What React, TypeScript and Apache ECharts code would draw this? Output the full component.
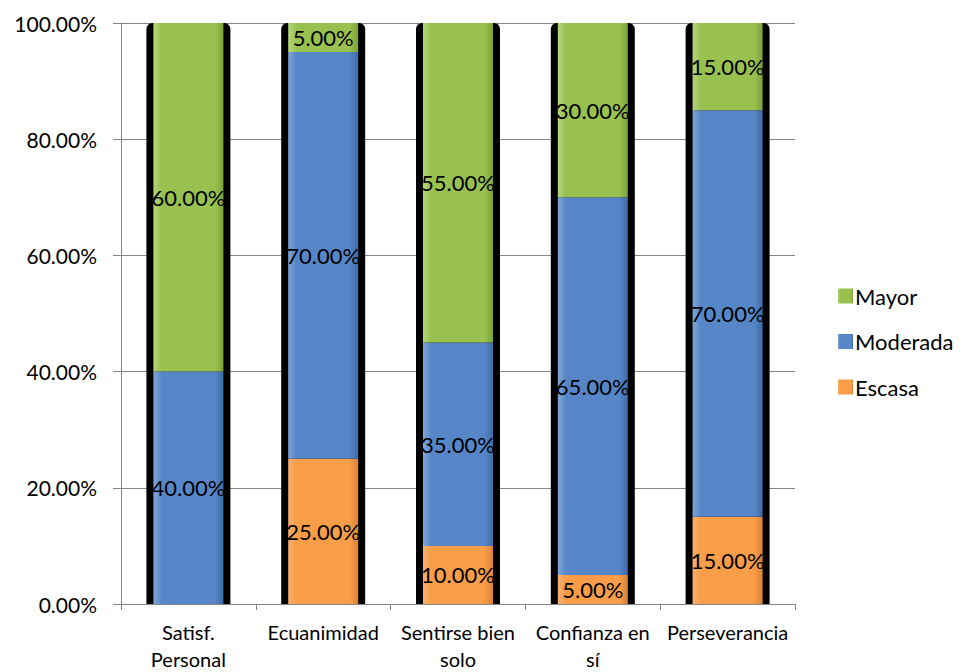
import React, { useEffect, useRef } from "react";
import * as echarts from "echarts";

const categories = ["Satisf.\nPersonal", "Ecuanimidad", "Sentirse bien\nsolo", "Confianza en\nsí", "Perseverancia"];
const escasa = [0, 25, 10, 5, 15];
const moderada = [40, 70, 35, 65, 70];
const mayor = [60, 5, 55, 30, 15];
const totals = [100, 100, 100, 100, 100];
const yTicks = [0, 20, 40, 60, 80, 100];

const FONT = "Lato, 'Open Sans', sans-serif";

function grad(light: string, mid: string, dark: string) {
  return new echarts.graphic.LinearGradient(0, 0, 1, 0, [
    { offset: 0, color: light },
    { offset: 0.12, color: mid },
    { offset: 0.88, color: mid },
    { offset: 1, color: dark },
  ]);
}

export default function App() {
  const ref = useRef<HTMLDivElement>(null);
  useEffect(() => {
    const chart = echarts.init(ref.current!, undefined, { renderer: "svg" });
    const label = {
      show: true,
      position: "inside" as const,
      color: "#000",
      fontFamily: FONT,
      fontSize: 22,
      formatter: (p: any) => (p.value > 0 ? p.value.toFixed(2) + "%" : ""),
    };
    chart.setOption({
      animation: false,
      backgroundColor: "#fff",
      textStyle: { fontFamily: FONT },
      grid: { left: 121, right: 170, top: 23, bottom: 67 },
      legend: {
        orient: "vertical",
        left: 833,
        top: 278,
        itemWidth: 15,
        itemHeight: 15,
        itemGap: 19.5,
        icon: "rect",
        textStyle: { fontSize: 22, color: "#000", fontFamily: FONT, padding: [0, 0, 0, -3], lineHeight: 26 },
        data: ["Mayor", "Moderada", "Escasa"],
      },
      xAxis: [
        {
          type: "category",
          data: categories,
          axisLine: { lineStyle: { color: "#868686" } },
          axisTick: { show: true, length: 6, lineStyle: { color: "#868686" } },
          axisLabel: { color: "#000", fontSize: 20, fontFamily: FONT, lineHeight: 27, margin: 14, interval: 0 },
        },
        {
          type: "category",
          data: categories,
          show: false,
        },
      ],
      yAxis: {
        type: "value",
        min: 0,
        max: 100,
        interval: 20,
        axisLine: { show: true, lineStyle: { color: "#868686" } },
        axisTick: { show: true, length: 8, lineStyle: { color: "#868686" } },
        splitLine: { lineStyle: { color: "#868686" } },
        axisLabel: {
          color: "#000",
          fontSize: 21,
          fontFamily: FONT,
          margin: 24,
          formatter: (v: number) => (yTicks.includes(v) ? v.toFixed(2) + "%" : ""),
        },
      },
      series: [
        {
          name: "frame",
          type: "bar",
          xAxisIndex: 1,
          data: totals,
          barWidth: 84,
          itemStyle: { color: "#000", borderRadius: [6, 6, 0, 0] },
          silent: true,
          z: 1,
        },
        {
          name: "Escasa",
          type: "bar",
          stack: "s",
          data: escasa,
          barWidth: 70,
          itemStyle: { color: grad("#F7B070", "#F99D48", "#D98236") },
          label,
          z: 2,
        },
        {
          name: "Moderada",
          type: "bar",
          stack: "s",
          data: moderada,
          barWidth: 70,
          itemStyle: { color: grad("#7FA6DA", "#5686C8", "#3E6BA8") },
          label,
          z: 2,
        },
        {
          name: "Mayor",
          type: "bar",
          stack: "s",
          data: mayor,
          barWidth: 70,
          itemStyle: { color: grad("#B5D67A", "#98C14F", "#7BA23A") },
          label,
          z: 2,
        },
      ],
    });
    return () => chart.dispose();
  }, []);
  return <div ref={ref} style={{ width: 965, height: 672, position: "absolute", left: 0, top: 0 }} />;
}
